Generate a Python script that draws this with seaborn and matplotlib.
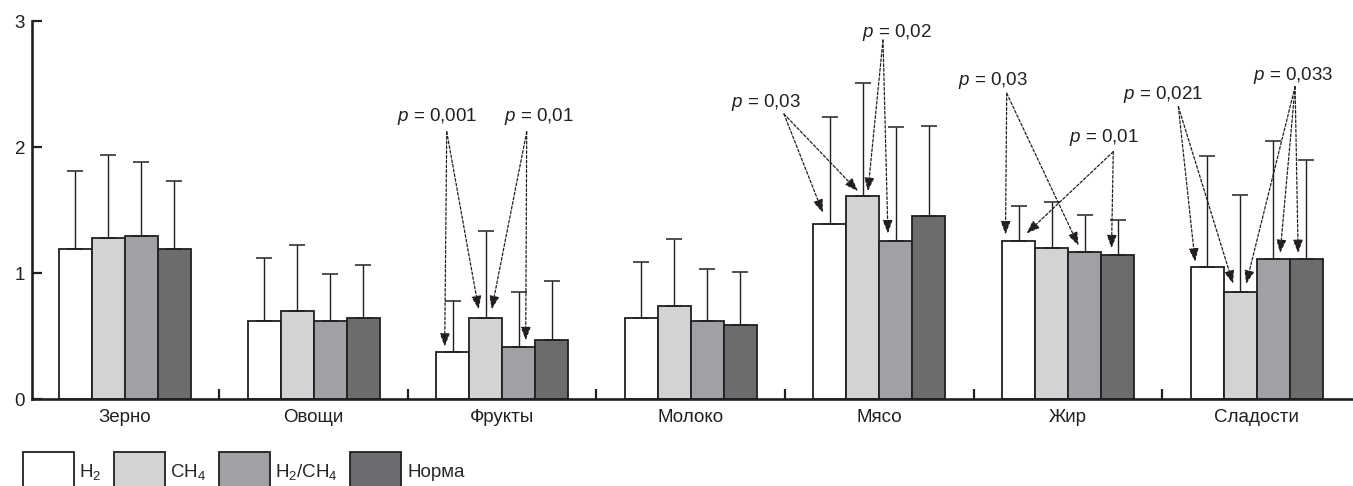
import numpy as np
import pandas as pd
import matplotlib
matplotlib.use("Agg")
import matplotlib.pyplot as plt
from matplotlib.patches import Patch
import seaborn as sns

# ---- data -------------------------------------------------------------
categories = ["Зерно", "Овощи", "Фрукты", "Молоко", "Мясо", "Жир", "Сладости"]
groups = [r"$\mathregular{H_2}$", r"$\mathregular{CH_4}$",
          r"$\mathregular{H_2/CH_4}$", "Норма"]

h2_mean    = [1.19, 0.62, 0.375, 0.64, 1.39, 1.25, 1.05]
ch4_mean   = [1.28, 0.70, 0.64, 0.74, 1.61, 1.20, 0.85]
h2ch4_mean = [1.29, 0.62, 0.41, 0.62, 1.25, 1.17, 1.11]
norma_mean = [1.19, 0.64, 0.47, 0.59, 1.45, 1.14, 1.11]

h2_sd    = [0.62, 0.50, 0.40, 0.45, 0.85, 0.28, 0.88]
ch4_sd   = [0.66, 0.52, 0.69, 0.53, 0.90, 0.36, 0.77]
h2ch4_sd = [0.59, 0.37, 0.44, 0.41, 0.91, 0.29, 0.94]
norma_sd = [0.54, 0.42, 0.47, 0.42, 0.72, 0.28, 0.79]

p_labels = ["0,001", "0,01", "0,03", "0,02", "0,03", "0,01", "0,021", "0,033"]

# ---- style ------------------------------------------------------------
sns.set_style("ticks")
FAMILY, FS = "Liberation Sans", 13.5
plt.rcParams["font.family"] = [FAMILY, "DejaVu Sans"]
plt.rcParams["mathtext.fontset"] = "custom"
plt.rcParams["mathtext.rm"] = FAMILY
plt.rcParams["mathtext.it"] = FAMILY + ":italic"
plt.rcParams["mathtext.default"] = "regular"

INK = "#231f20"
palette = ["#ffffff", "#d1d3d4", "#a0a1a4", "#6b6c70"]

means = [h2_mean, ch4_mean, h2ch4_mean, norma_mean]
sds = [h2_sd, ch4_sd, h2ch4_sd, norma_sd]

df = pd.DataFrame({
    "Продукт": np.tile(categories, len(groups)),
    "Группа": np.repeat(groups, len(categories)),
    "Значение": np.concatenate(means),
})

fig = plt.figure(figsize=(13.53, 4.86), dpi=100)
ax = fig.add_axes([32 / 1353, 1 - 399 / 486, 1 - 32 / 1353, 378 / 486])

sns.barplot(data=df, x="Продукт", y="Значение", hue="Группа",
            order=categories, hue_order=groups, palette=palette,
            width=0.7, gap=0, errorbar=None, edgecolor=INK,
            linewidth=1.3, legend=False, ax=ax, zorder=2)

# upper-only SD whiskers from the bar tops
for cont, sd in zip(ax.containers, sds):
    xs = [b.get_x() + b.get_width() / 2 for b in cont]
    ys = [b.get_height() for b in cont]
    ax.errorbar(xs, ys, yerr=[np.zeros(len(sd)), sd], fmt="none",
                ecolor=INK, elinewidth=1.0, capsize=6, capthick=1.1,
                zorder=3)

# ---- axes -------------------------------------------------------------
ax.set_xlim(-0.493, 6.511)
ax.set_ylim(0, 3)
ax.set_yticks([0, 1, 2, 3])
ax.set_xlabel("")
ax.set_ylabel("")
ax.set_xticks(range(len(categories)))
ax.set_xticklabels(categories)
ax.set_xticks(np.arange(0.5, len(categories) - 1, 1.0), minor=True)
ax.tick_params(axis="x", which="major", length=0, pad=7, labelsize=FS,
               colors=INK)
ax.tick_params(axis="x", which="minor", direction="in", length=7,
               width=1.6, color=INK)
ax.tick_params(axis="y", direction="in", length=7, width=1.6, pad=5,
               labelsize=FS, colors=INK)
sns.despine(ax=ax)
for s in ("left", "bottom"):
    ax.spines[s].set_linewidth(1.9)
    ax.spines[s].set_color(INK)
ax.patch.set_alpha(0)

# ---- p-value annotations ---------------------------------------------
px_x = 1 / 188.6   # data units per pixel, horizontal
px_y = 1 / 126.0   # data units per pixel, vertical
# (label position, arrow origin, [(category, group, dx px, gap px), ...])
annot_layout = [
    ((1.657, 2.206), (1.706, 2.121), [(2, 0, -8, 5), (2, 1, -7, 9)]),
    ((2.195, 2.206), (2.130, 2.121), [(2, 1, 6, 9), (2, 2, 7, 7)]),
    ((3.399, 2.317), (3.494, 2.262), [(4, 0, -7, 11), (4, 1, -5, 5)]),
    ((4.093, 2.875), (4.019, 2.849), [(4, 1, 5, 5), (4, 2, -8, 8)]),
    ((4.603, 2.492), (4.675, 2.426), [(5, 0, -13, 7), (5, 2, -6, 6)]),
    ((5.191, 2.042), (5.240, 1.963), [(5, 0, 8, 8), (5, 3, -6, 7)]),
    ((5.504, 2.381), (5.585, 2.320), [(6, 0, -12, 5), (6, 1, -7, 8)]),
    ((6.193, 2.532), (6.204, 2.479), [(6, 1, 6, 8), (6, 2, 7, 6),
                                      (6, 3, -8, 6)]),
]

arrow_kw = dict(arrowstyle="-|>,head_length=0.8,head_width=0.3",
                linestyle=(0, (2.2, 1.6)), lw=0.9, color=INK,
                shrinkA=0, shrinkB=0, mutation_scale=10)

for label, (tpos, origin, tips) in zip(p_labels, annot_layout):
    ax.text(tpos[0], tpos[1], r"$\mathit{p}$ = " + label, ha="center",
            va="baseline", fontsize=FS, color=INK)
    for ci, gi, dx, gap in tips:
        bar = ax.containers[gi][ci]
        tip = (bar.get_x() + bar.get_width() / 2 + dx * px_x,
               bar.get_height() + gap * px_y)
        ax.annotate("", xy=tip, xytext=origin, arrowprops=arrow_kw,
                    zorder=4)

# ---- legend -----------------------------------------------------------
handles = [Patch(facecolor=c, edgecolor=INK, linewidth=1.3) for c in palette]
fig.legend(handles, groups, loc="upper left",
           bbox_to_anchor=(22.7 / 1353, 1 - 452 / 486),
           ncol=4, frameon=False, fontsize=FS, borderpad=0,
           borderaxespad=0, handlelength=51 / (FS * 100 / 72),
           handleheight=2.8, handletextpad=0.3, columnspacing=0.65)

fig.savefig("out.png", dpi=100)
